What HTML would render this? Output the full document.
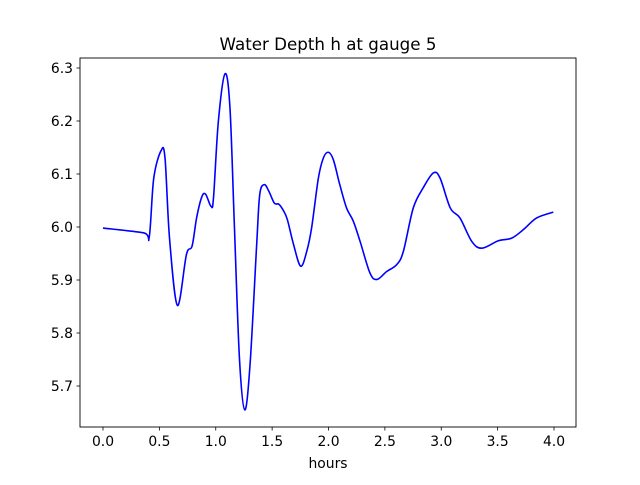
<!DOCTYPE html>
<html><head><meta charset="utf-8"><style>
body{margin:0;background:#fff}
svg text{font-family:"DejaVu Sans","Liberation Sans",sans-serif;fill:#000}
</style></head><body>
<svg id="chart" width="640" height="480" viewBox="0 0 640 480" xmlns="http://www.w3.org/2000/svg">
<rect x="0" y="0" width="640" height="480" fill="#fff"/>
<text x="328" y="50" font-size="16.7" text-anchor="middle">Water Depth h at gauge 5</text>
<g id="ticks"></g>
<path id="line" fill="none" stroke="#0000ff" stroke-width="1.6"/>
<rect x="80" y="58" width="496" height="369" fill="none" stroke="#000" stroke-width="0.9"/>
<text x="328" y="468" font-size="13.9" text-anchor="middle">hours</text>
</svg>
<script>
const hours=[0.0,0.36,0.41,0.45,0.515,0.55,0.59,0.66,0.74,0.79,0.83,0.875,0.91,0.958,0.98,1.023,1.082,1.126,1.165,1.21,1.257,1.304,1.363,1.39,1.43,1.472,1.52,1.56,1.60,1.635,1.69,1.753,1.807,1.85,1.91,1.954,1.998,2.043,2.10,2.16,2.22,2.28,2.368,2.43,2.516,2.605,2.664,2.752,2.84,2.93,2.99,3.08,3.166,3.27,3.36,3.506,3.625,3.728,3.846,3.994];
const depth=[5.998,5.989,5.981,6.092,6.144,6.130,5.979,5.852,5.948,5.964,6.017,6.056,6.062,6.039,6.055,6.199,6.289,6.225,6.004,5.753,5.655,5.740,5.967,6.061,6.080,6.067,6.045,6.043,6.031,6.014,5.967,5.926,5.954,5.998,6.092,6.130,6.141,6.127,6.080,6.036,6.011,5.973,5.913,5.901,5.916,5.929,5.954,6.036,6.074,6.102,6.092,6.036,6.017,5.973,5.960,5.974,5.979,5.995,6.017,6.028];
const xTicks=[0.0,0.5,1.0,1.5,2.0,2.5,3.0,3.5,4.0];
const yTicks=[5.7,5.8,5.9,6.0,6.1,6.2,6.3];
const X=v=>103+v*112.75, Y=v=>227-(v-6.0)*530;
const ns="http://www.w3.org/2000/svg", g=document.getElementById('ticks');
function mk(t,a){const e=document.createElementNS(ns,t);for(const k in a)e.setAttribute(k,a[k]);g.appendChild(e);return e;}
xTicks.forEach(v=>{const x=X(v);
 const l=mk('line',{x1:x,x2:x,y1:427,y2:430.5,stroke:'#000','stroke-width':0.8});
 
 
 const t=mk('text',{x:x,y:446,'font-size':13.9,'text-anchor':'middle'});t.textContent=v.toFixed(1);
 
 });
yTicks.forEach(v=>{const y=Y(v);
 const l=mk('line',{x1:76.5,x2:80,y1:y,y2:y,stroke:'#000','stroke-width':0.8});
 
 
 const t=mk('text',{x:73,y:y+5,'font-size':13.9,'text-anchor':'end'});t.textContent=v.toFixed(1);
 
 });
const P=hours.map((h,i)=>[X(h),Y(depth[i])]);
let d='M'+P[0][0]+','+P[0][1];
for(let i=0;i<P.length-1;i++){const p0=P[Math.max(0,i-1)],p1=P[i],p2=P[i+1],p3=P[Math.min(P.length-1,i+2)];
 const c1=[p1[0]+(p2[0]-p0[0])/6,p1[1]+(p2[1]-p0[1])/6],c2=[p2[0]-(p3[0]-p1[0])/6,p2[1]-(p3[1]-p1[1])/6];
 d+=' C'+c1+' '+c2+' '+p2;}
document.getElementById('line').setAttribute('d',d);
</script>
</body></html>
